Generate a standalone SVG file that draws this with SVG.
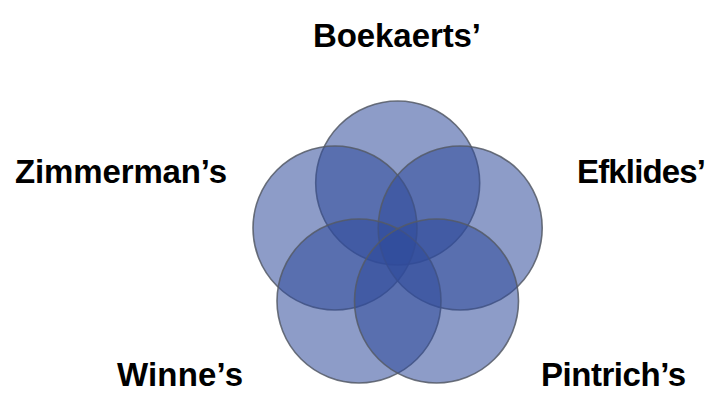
<svg xmlns="http://www.w3.org/2000/svg" width="711" height="416" viewBox="0 0 711 416">
<style>
.c{fill:#2f4b9a;fill-opacity:0.55;stroke:#555a66;stroke-opacity:0.85;stroke-width:1.6}
.t{font-family:"Liberation Sans",Arial,sans-serif;font-weight:bold;font-size:33px;fill:#000}
</style>
<rect width="711" height="416" fill="#fff"/>
<g id="boekaerts"><circle class="c" cx="397.7" cy="183" r="82"/><text class="t" x="313" y="47" textLength="168" lengthAdjust="spacing">Boekaerts’</text></g>
<g id="zimmerman"><circle class="c" cx="335" cy="228" r="82"/><text class="t" x="15" y="183" textLength="212" lengthAdjust="spacing">Zimmerman’s</text></g>
<g id="efklides"><circle class="c" cx="460.2" cy="228" r="82"/><text class="t" x="577" y="183" textLength="129" lengthAdjust="spacing">Efklides’</text></g>
<g id="winne"><circle class="c" cx="359" cy="301" r="82"/><text class="t" x="117" y="386" textLength="126" lengthAdjust="spacing">Winne’s</text></g>
<g id="pintrich"><circle class="c" cx="436.5" cy="301" r="82"/><text class="t" x="541" y="386" textLength="145" lengthAdjust="spacing">Pintrich’s</text></g>
<g id="connectors"></g>
</svg>
